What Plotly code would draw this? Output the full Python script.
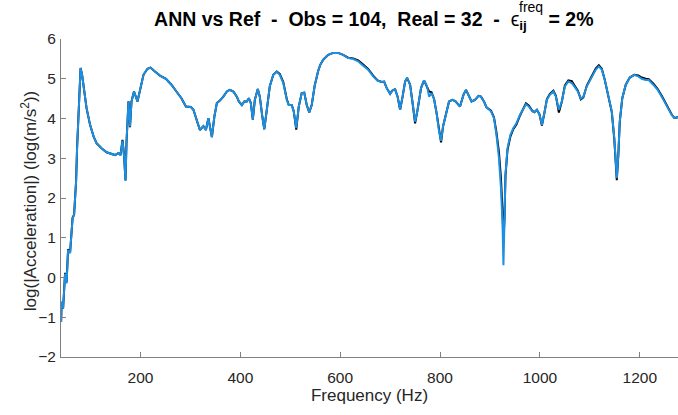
import plotly.graph_objects as go

# Frequency (Hz)
freq = [41, 42, 45, 49, 52, 55, 59, 64, 67, 71, 73, 75, 77, 80, 83, 87, 92, 99, 106, 112,
        122, 132, 142, 149, 156, 160, 164, 167, 170, 172, 176, 179, 182, 187, 194, 199, 206, 214, 220, 229,
        239, 251, 262, 272, 282, 291, 295, 301, 306, 313, 319, 326, 331, 336, 339, 343, 348, 353, 359, 366,
        373, 379, 386, 393, 397, 403, 408, 413, 417, 421, 425, 429, 435, 439, 444, 448, 453, 459, 466, 473,
        479, 486, 493, 497, 503, 507, 512, 517, 523, 528, 533, 538, 543, 549, 556, 560, 566, 576, 586, 596,
        606, 616, 626, 636, 646, 656, 666, 675, 683, 688, 693, 700, 704, 710, 715, 720, 725, 730, 734, 740,
        745, 750, 755, 762, 768, 774, 778, 783, 788, 793, 798, 802, 806, 812, 818, 825, 831, 840, 847, 852,
        858, 863, 870, 877, 882, 888, 893, 902, 908, 913, 918, 922, 925, 927, 929, 931, 935, 941, 947, 953,
        960, 967, 972, 978, 985, 989, 994, 999, 1004, 1009, 1014, 1020, 1027, 1032, 1038, 1044, 1050, 1057, 1064, 1070,
        1076, 1082, 1087, 1094, 1104, 1112, 1118, 1124, 1130, 1137, 1144, 1149, 1152, 1154, 1157, 1160, 1165, 1172, 1180, 1189,
        1197, 1204, 1212, 1218, 1227, 1236, 1244, 1251, 1257, 1264, 1269, 1274, 1276]

# ANN prediction, log(|Acceleration|)
ann = [-1.12, -0.61, -0.78, 0.10, -0.15, 0.69, 0.61, 1.49, 1.57, 2.41, 3.25, 3.92, 4.60, 5.27, 5.10, 4.68, 4.26, 3.84, 3.55, 3.38,
       3.25, 3.15, 3.11, 3.08, 3.13, 3.08, 3.44, 3.08, 2.43, 3.42, 4.43, 3.80, 4.43, 4.68, 4.43, 4.68, 5.10, 5.25, 5.28, 5.18,
       5.08, 5.00, 4.85, 4.68, 4.51, 4.30, 4.29, 4.29, 4.22, 3.97, 3.71, 3.81, 3.71, 4.01, 3.84, 3.53, 4.05, 4.39, 4.45, 4.55,
       4.68, 4.72, 4.68, 4.55, 4.43, 4.34, 4.43, 4.43, 4.51, 4.39, 3.97, 4.47, 4.74, 4.55, 4.05, 3.73, 4.22, 4.81, 5.10, 5.18,
       5.10, 4.89, 4.47, 4.34, 4.34, 4.18, 3.76, 4.30, 4.64, 4.65, 4.34, 4.15, 4.34, 4.83, 5.20, 5.35, 5.48, 5.60, 5.65, 5.65,
       5.60, 5.52, 5.50, 5.44, 5.33, 5.23, 5.06, 4.95, 4.92, 4.93, 4.77, 4.62, 4.70, 4.74, 4.55, 4.22, 4.55, 4.93, 5.02, 4.85,
       4.39, 3.92, 4.22, 4.77, 4.96, 4.81, 4.55, 4.64, 4.49, 4.14, 3.67, 3.44, 3.80, 4.10, 4.43, 4.47, 4.43, 4.30, 4.60, 4.72,
       4.55, 4.43, 4.47, 4.57, 4.55, 4.43, 4.28, 4.18, 4.01, 3.59, 3.00, 2.25, 1.40, 0.31, 1.40, 2.58, 3.25, 3.59, 3.76, 3.88,
       4.09, 4.26, 4.36, 4.30, 4.18, 4.16, 4.22, 4.11, 3.84, 4.14, 4.47, 4.60, 4.68, 4.55, 4.22, 4.43, 4.81, 4.93, 4.89, 4.79,
       4.68, 4.50, 4.55, 4.81, 5.06, 5.23, 5.31, 5.23, 4.97, 4.60, 4.18, 3.51, 2.83, 2.50, 3.08, 3.92, 4.51, 4.85, 5.03, 5.10,
       5.06, 5.00, 4.97, 4.97, 4.85, 4.72, 4.55, 4.39, 4.22, 4.09, 4.02, 4.02, 4.05]

# Reference, log(|Acceleration|)
ref = [-1.12, -0.61, -0.78, 0.12, -0.12, 0.71, 0.63, 1.50, 1.58, 2.42, 3.26, 3.95, 4.61, 5.27, 5.10, 4.68, 4.26, 3.84, 3.55, 3.38,
       3.25, 3.15, 3.11, 3.08, 3.13, 3.08, 3.46, 3.08, 2.45, 3.40, 4.43, 3.78, 4.43, 4.68, 4.43, 4.68, 5.10, 5.25, 5.28, 5.18,
       5.08, 5.00, 4.85, 4.68, 4.51, 4.30, 4.29, 4.29, 4.22, 3.97, 3.71, 3.81, 3.71, 4.01, 3.84, 3.53, 4.05, 4.39, 4.45, 4.55,
       4.68, 4.72, 4.68, 4.55, 4.43, 4.34, 4.43, 4.43, 4.51, 4.39, 3.97, 4.47, 4.74, 4.55, 4.05, 3.73, 4.22, 4.81, 5.10, 5.18,
       5.12, 4.92, 4.49, 4.34, 4.34, 4.18, 3.72, 4.30, 4.64, 4.65, 4.34, 4.15, 4.34, 4.83, 5.20, 5.35, 5.48, 5.60, 5.65, 5.65,
       5.60, 5.53, 5.51, 5.46, 5.36, 5.25, 5.08, 4.96, 4.92, 4.93, 4.77, 4.62, 4.70, 4.74, 4.55, 4.22, 4.55, 4.93, 5.02, 4.85,
       4.39, 3.88, 4.22, 4.77, 4.96, 4.80, 4.68, 4.66, 4.49, 4.14, 3.67, 3.40, 3.80, 4.10, 4.43, 4.47, 4.43, 4.30, 4.60, 4.72,
       4.55, 4.43, 4.47, 4.57, 4.55, 4.43, 4.28, 4.20, 4.03, 3.65, 3.15, 2.50, 1.70, 0.92, 1.45, 2.55, 3.20, 3.55, 3.74, 3.85,
       4.07, 4.26, 4.38, 4.32, 4.19, 4.16, 4.22, 4.11, 3.82, 4.14, 4.49, 4.62, 4.70, 4.57, 4.15, 4.43, 4.83, 4.96, 4.94, 4.82,
       4.70, 4.48, 4.53, 4.83, 5.08, 5.26, 5.34, 5.25, 4.97, 4.60, 4.16, 3.48, 2.80, 2.45, 3.06, 3.92, 4.51, 4.85, 5.03, 5.10,
       5.08, 5.03, 5.00, 4.99, 4.88, 4.74, 4.57, 4.41, 4.24, 4.10, 4.02, 4.02, 4.05]

x_ticks = [200, 400, 600, 800, 1000, 1200]
y_ticks = [-2, -1, 0, 1, 2, 3, 4, 5, 6]

NB = "\u00a0"
title_txt = ("<b>ANN vs Ref" + NB + " - " + NB + "Obs = 104," + NB + " Real = 32" + NB + " - " + NB + "</b>"
             + "ϵ<sub><b>ij</b></sub>" + NB * 4 + "<b>= 2%</b>")

fig = go.Figure()
fig.add_trace(go.Scatter(x=freq, y=ref, mode="lines", name="Ref",
                         line=dict(color="black", width=2), showlegend=False))
fig.add_trace(go.Scatter(x=freq, y=ann, mode="lines", name="ANN",
                         line=dict(color="#1a8fe3", width=2), showlegend=False))

axis_common = dict(showline=True, linecolor="#808080", linewidth=1, mirror=False,
                   ticks="inside", ticklen=5, tickcolor="#808080", showgrid=False,
                   zeroline=False, tickfont=dict(family="Liberation Sans", size=15.5, color="#262626"))

fig.update_layout(
    width=678, height=415,
    margin=dict(l=61, r=0, t=39, b=58),
    paper_bgcolor="white", plot_bgcolor="white",
    title=dict(text=title_txt, x=0.507, xref="paper", xanchor="center", y=0.953, yanchor="middle",
               font=dict(family="Liberation Sans", size=19.5, color="black")),
    xaxis=dict(range=[40.8, 1276.6], tickvals=x_ticks, ticklabelstandoff=6,
               title=dict(text="Frequency (Hz)", standoff=4,
                          font=dict(family="Liberation Sans", size=17, color="#262626")),
               **axis_common),
    yaxis=dict(range=[-2, 6], tickvals=y_ticks, ticklabelstandoff=1, **axis_common),
    annotations=[
        dict(text="freq", xref="paper", yref="paper", x=0.739, y=1.1,
             showarrow=False, xanchor="left", yanchor="middle",
             font=dict(family="Liberation Sans", size=14, color="black")),
        dict(text="log(|Acceleration|) (log(m/s<sup>2</sup>))", xref="paper", yref="paper",
             x=0, y=0.49, xanchor="center", yanchor="middle", xshift=-32, textangle=-90,
             showarrow=False, font=dict(family="Liberation Sans", size=17, color="#262626")),
    ],
)

fig.write_html("out.html")
